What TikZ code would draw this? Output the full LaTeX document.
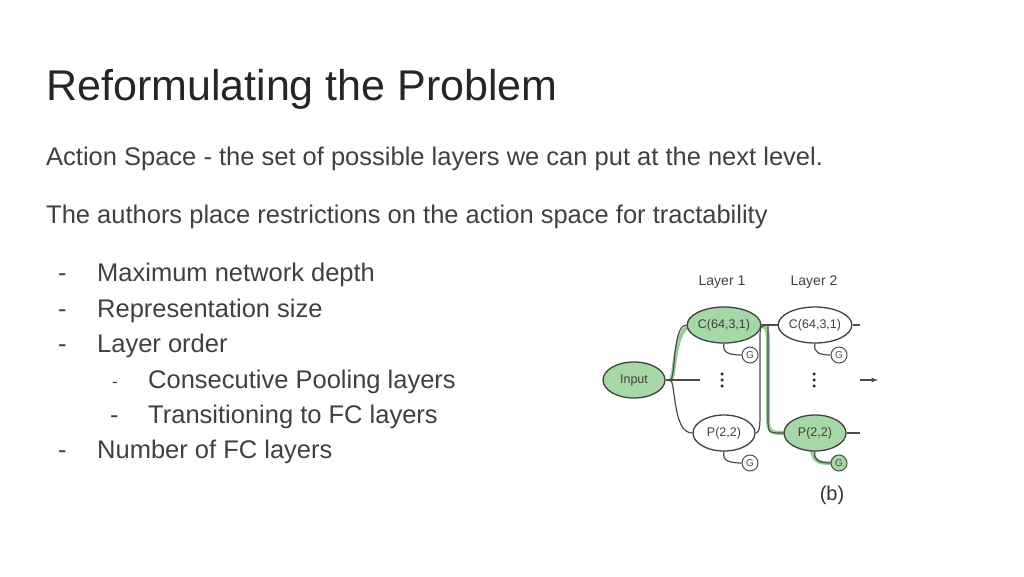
\documentclass[tikz,border=0pt]{standalone}
\usepackage{fontspec}
\setmainfont{Liberation Sans}
\usetikzlibrary{shapes.geometric}
\begin{document}
\begin{tikzpicture}[x=1pt,y=-1pt,
  txt/.style={anchor=base west,inner sep=0pt,text=black!75},
  lay/.style={ellipse,draw=black!75,line width=1.3pt,minimum width=62pt,minimum height=36pt,inner sep=0pt,font=\fontsize{12.5}{13}\selectfont,text=black!75},
  on/.style={fill=green!55!black!35!white},
  gc/.style={circle,draw=black!70,line width=1pt,minimum size=16pt,inner sep=0pt,font=\fontsize{10}{11}\selectfont,text=black!70},
  wire/.style={draw=black!70,line width=1.2pt},
  glow/.style={draw=green!50!black!40!white,line width=4pt,line cap=round},
  dotn/.style={circle,fill=black!80,inner sep=0pt,minimum size=3.5pt}]
\useasboundingbox (0,0) rectangle (1024,576);
\node[txt,font=\fontsize{43}{45}\selectfont,text=black!85] (title) at (46,100) {Reformulating the Problem};
\begin{scope}[font=\fontsize{25.5}{28}\selectfont]
\node[txt] (l1) at (46,165) {Action Space - the set of possible layers we can put at the next level.};
\node[txt] (l2) at (46,223) {The authors place restrictions on the action space for tractability};
\node[txt] (d1) at (58,281) {-}; \node[txt] (b1) at (97,281) {Maximum network depth};
\node[txt] (d2) at (58,317) {-}; \node[txt] (b2) at (97,317) {Representation size};
\node[txt] (d3) at (58,352) {-}; \node[txt] (b3) at (97,352) {Layer order};
\node[txt,font=\fontsize{17}{18}\selectfont] (d4) at (112,387) {-}; \node[txt] (b4) at (148,388) {Consecutive Pooling layers};
\node[txt] (d5) at (110,423) {-}; \node[txt] (b5) at (148,423) {Transitioning to FC layers};
\node[txt] (d6) at (58,458) {-}; \node[txt] (b6) at (97,458) {Number of FC layers};
\end{scope}
% diagram
\node[font=\fontsize{14}{15}\selectfont,text=black!75] (L1) at (722,282) {Layer 1};
\node[font=\fontsize{14}{15}\selectfont,text=black!75] (L2) at (814,282) {Layer 2};
\coordinate (split) at (670,380);
\coordinate (j1) at (768,325);
\coordinate (cout) at (860,325);
\coordinate (pout) at (860,433);
\coordinate (mid) at (700,380);
% highlight
\path[glow] (split) .. controls (676,380) and (672,325) .. (694,325);
\path[glow] (756,325) .. controls (768,325) and (768,330) .. (768,345) -- (768,418) .. controls (768,433) and (772,433) .. (785,433);
\path[glow] (812,451) .. controls (814,462) and (820,463) .. (831,463);
\node[lay,on] (in) at (634,380) {Input};
\node[lay,on] (c1) at (724,325) {C(64,3,1)};
\node[lay] (p1) at (724,433) {P(2,2)};
\node[lay] (c2) at (815,325) {C(64,3,1)};
\node[lay,on] (p2) at (815,433) {P(2,2)};
\node[gc] (g1) at (750,355) {G};
\node[gc] (g2) at (839,355) {G};
\node[gc] (g3) at (750,463) {G};
\node[gc,on] (g4) at (839,463) {G};
\draw[wire] (in.east) -- (split);
\draw[wire] (split) .. controls (676,380) and (672,325) .. (c1.west);
\draw[wire] (split) .. controls (676,380) and (672,433) .. (p1.west);
\draw[wire] (split) -- (mid);
\draw[wire] (c1.east) -- (c2.west);
\draw[wire] (j1) .. controls (768,330) .. (768,345) -- (768,418) .. controls (768,433) .. (p2.west);
\draw[wire] (p1.east) .. controls (760,433) and (760,425) .. (760,410) -- (760,340) .. controls (760,326) .. (j1);
\draw[wire] (c2.east) -- (cout);
\draw[wire] (p2.east) -- (pout);
\draw[wire] (c1.south) .. controls (722,352) and (728,355) .. (g1.west);
\draw[wire] (c2.south) .. controls (813,352) and (819,355) .. (g2.west);
\draw[wire] (p1.south) .. controls (722,460) and (728,463) .. (g3.west);
\draw[wire] (p2.south) .. controls (813,460) and (819,463) .. (g4.west);
\foreach \x/\n in {722/a,814/b}{
  \node[dotn] (\n1) at (\x,374) {};
  \node[dotn] (\n2) at (\x,380) {};
  \node[dotn] (\n3) at (\x,386) {};
}
\coordinate (a0) at (860,380); \coordinate (a1) at (878,380);
\draw[wire,-latex] (a0) -- (a1);
\node[font=\fontsize{20}{22}\selectfont,text=black!80] (b) at (832,495) {(b)};
\end{tikzpicture}
\end{document}
